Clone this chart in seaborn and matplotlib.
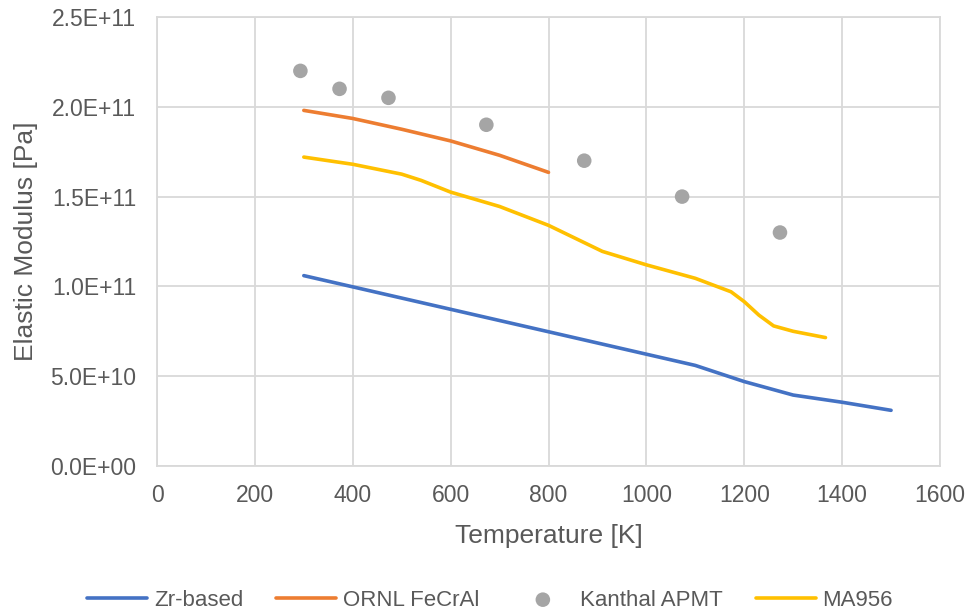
import matplotlib
matplotlib.use("Agg")
import matplotlib.pyplot as plt
import seaborn as sns
import pandas as pd
from matplotlib.ticker import FuncFormatter, MultipleLocator

# ---- data ----
zr_T = [300, 400, 500, 600, 700, 800, 900, 1000, 1100, 1200, 1300, 1400, 1500]
zr_E = [1.06e11, 0.9975e11, 0.935e11, 0.8725e11, 0.81e11, 0.7475e11, 0.685e11,
        0.6225e11, 0.56e11, 0.47e11, 0.395e11, 0.355e11, 0.31e11]

ornl_T = [300, 400, 500, 600, 700, 800]
ornl_E = [1.98e11, 1.935e11, 1.875e11, 1.81e11, 1.73e11, 1.635e11]

apmt_T = [293, 373, 473, 673, 873, 1073, 1273]
apmt_E = [2.2e11, 2.1e11, 2.05e11, 1.9e11, 1.7e11, 1.5e11, 1.3e11]

ma_T = [300, 400, 500, 540, 600, 700, 800, 910, 1000, 1100, 1173, 1200, 1230, 1260, 1300, 1366]
ma_E = [1.72e11, 1.68e11, 1.625e11, 1.59e11, 1.525e11, 1.445e11, 1.34e11, 1.195e11,
        1.12e11, 1.045e11, 0.97e11, 0.915e11, 0.84e11, 0.78e11, 0.75e11, 0.715e11]

labels = ["Zr-based", "ORNL FeCrAl", "Kanthal APMT", "MA956"]
colors = ["#4472C4", "#ED7D31", "#A5A5A5", "#FFC000"]

xticks = [0, 200, 400, 600, 800, 1000, 1200, 1400, 1600]

# ---- style ----
sns.set_style("white")
plt.rcParams["font.family"] = ["Liberation Sans", "DejaVu Sans"]
txt = "#595959"
grid = "#D9D9D9"

fig = plt.figure(figsize=(9.71, 6.13), dpi=100)
ax = fig.add_axes([157/971, 1-466/613, (940-157)/971, (466-17)/613])

df_zr = pd.DataFrame({"T": zr_T, "E": zr_E})
df_ornl = pd.DataFrame({"T": ornl_T, "E": ornl_E})
df_apmt = pd.DataFrame({"T": apmt_T, "E": apmt_E})
df_ma = pd.DataFrame({"T": ma_T, "E": ma_E})

lw = 2.6
sns.lineplot(data=df_zr, x="T", y="E", ax=ax, color=colors[0], lw=lw, label=labels[0], sort=False)
sns.lineplot(data=df_ornl, x="T", y="E", ax=ax, color=colors[1], lw=lw, label=labels[1], sort=False)
sns.scatterplot(data=df_apmt, x="T", y="E", ax=ax, color=colors[2], s=110, edgecolor="none",
                label=labels[2], zorder=3)
sns.lineplot(data=df_ma, x="T", y="E", ax=ax, color=colors[3], lw=lw, label=labels[3], sort=False)

ax.set_xlim(0, 1600)
ax.set_ylim(0, 2.5e11)
ax.set_xticks(xticks)
ax.yaxis.set_major_locator(MultipleLocator(5e10))
ax.yaxis.set_major_formatter(FuncFormatter(lambda v, p: f"{v:.1E}".replace("E+0", "E+") if v != 0 else "0.0E+00"))

ax.grid(True, color=grid, lw=1.3)
ax.set_axisbelow(True)
for s in ax.spines.values():
    s.set_color(grid)
    s.set_linewidth(1.3)

ax.tick_params(axis="both", length=0, labelsize=16.5, labelcolor=txt)
ax.tick_params(axis="y", pad=15)
ax.tick_params(axis="x", pad=13)

ax.set_xlabel("Temperature [K]", fontsize=19, color=txt, labelpad=12)
ax.set_ylabel("Elastic Modulus [Pa]", fontsize=19, color=txt, labelpad=9)

handles, labs = ax.get_legend_handles_labels()
ax.get_legend().remove()
fig.legend(handles, labs, loc="center", bbox_to_anchor=(490/971, 1-600/613), ncol=4,
           frameon=False, fontsize=16, labelcolor=txt, handlelength=2.7,
           handletextpad=0.3, columnspacing=1.5, markerscale=1.0)

fig.savefig("out.png", dpi=100)
